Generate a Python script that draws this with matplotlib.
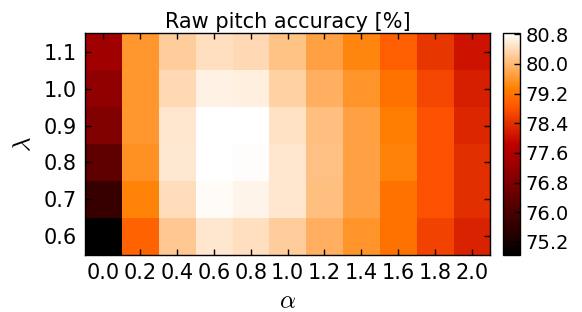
import numpy as np
import matplotlib
matplotlib.use("Agg")
import matplotlib.pyplot as plt

alphas = ["0.0", "0.2", "0.4", "0.6", "0.8", "1.0", "1.2", "1.4", "1.6", "1.8", "2.0"]
lambdas = ["0.6", "0.7", "0.8", "0.9", "1.0", "1.1"]

# rows from lambda 0.6 (bottom) to 1.1 (top)
row_06 = [74.85, 79.00, 80.18, 80.53, 80.44, 80.24, 79.89, 79.58, 79.18, 78.63, 78.25]
row_07 = [75.71, 79.36, 80.41, 80.77, 80.70, 80.53, 80.07, 79.72, 79.18, 78.78, 78.38]
row_08 = [76.33, 79.54, 80.56, 80.83, 80.80, 80.53, 80.09, 79.72, 79.36, 78.78, 78.38]
row_09 = [76.88, 79.60, 80.53, 80.83, 80.83, 80.47, 80.07, 79.72, 79.30, 78.78, 78.29]
row_10 = [77.12, 79.60, 80.37, 80.65, 80.63, 80.28, 79.89, 79.58, 79.18, 78.66, 78.20]
row_11 = [77.35, 79.60, 80.24, 80.44, 80.37, 80.12, 79.72, 79.42, 78.95, 78.48, 78.06]

cbar_ticks = [75.2, 76.0, 76.8, 77.6, 78.4, 79.2, 80.0, 80.8]

data = np.array([row_06, row_07, row_08, row_09, row_10, row_11])

plt.rcParams['font.family'] = ['DejaVu Sans']
plt.rcParams['mathtext.fontset'] = 'cm'

fig = plt.figure(figsize=(5.82, 3.12), dpi=100, facecolor='white')
ax = fig.add_axes([0.146, 0.183, 0.696, 0.711])
cax = fig.add_axes([0.864, 0.183, 0.029, 0.711])

im = ax.imshow(data, cmap='gist_heat', origin='lower', interpolation='nearest',
               aspect='auto', vmin=74.85, vmax=80.83)

ax.set_xticks(np.arange(len(alphas)))
ax.set_xticklabels(alphas, fontsize=15)
ax.set_yticks(np.arange(len(lambdas)))
ax.set_yticklabels(lambdas, fontsize=15)
ax.tick_params(direction='in', top=True, right=True, length=4, width=1, pad=6)
ax.set_xlabel(r'$\alpha$', fontsize=18, labelpad=4)
ax.set_ylabel(r'$\lambda$', fontsize=18, labelpad=6)
ax.set_title('Raw pitch accuracy [%]', fontsize=15, pad=4)
for s in ax.spines.values():
    s.set_linewidth(1.0)

cb = fig.colorbar(im, cax=cax, ticks=cbar_ticks)
cb.ax.set_yticklabels([f"{t:.1f}" for t in cbar_ticks], fontsize=14)
cb.ax.tick_params(direction='in', length=4, width=1, pad=4)
cb.outline.set_linewidth(1.0)

fig.savefig('out.png', dpi=100, facecolor='white')
